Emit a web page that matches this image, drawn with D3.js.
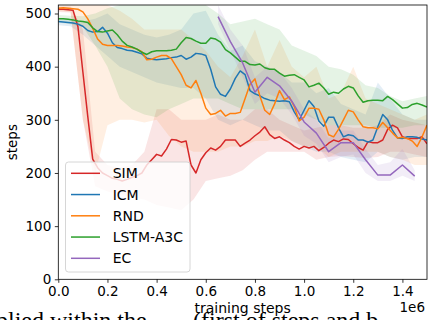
<!DOCTYPE html>
<html><head><meta charset="utf-8">
<script src="https://cdn.jsdelivr.net/npm/d3@7"></script>
<style>html,body{margin:0;padding:0;background:#fff;overflow:hidden}</style>
</head><body>
<script>
// ---- data ----
const steps = [0,0.02,0.04,0.06,0.08,0.10,0.12,0.14,0.16,0.18,
 0.20,0.22,0.24,0.26,0.28,0.30,0.32,0.34,0.36,0.38,
 0.40,0.42,0.44,0.46,0.48,0.50,0.52,0.54,0.56,0.58,
 0.60,0.62,0.64,0.66,0.68,0.70,0.72,0.74,0.76,0.78,
 0.80,0.82,0.84,0.86,0.88,0.90,0.92,0.94,0.96,0.98,
 1.00,1.02,1.04,1.06,1.08,1.10,1.12,1.14,1.16,1.18,
 1.20,1.22,1.24,1.26,1.28,1.30,1.32,1.34,1.36,1.38,
 1.40,1.42,1.44,1.46,1.48,1.50];
const sim = [508,508,507,506,475,390,306,226,210,200,
 195,190,188,185,188,192,195,200,215,225,
 235,232,245,263,262,258,260,215,200,225,
 238,247,243,250,262,262,262,250,256,262,
 270,277,287,272,265,268,262,257,250,245,
 250,247,250,242,248,256,262,259,264,263,
 255,248,243,259,257,257,262,282,290,285,
 268,265,265,265,268,255];
const icm = [485,484,483,482,480,476,468,465,466,474,
 463,445,436,434,431,430,427,424,416,414,
 413,414,415,417,418,421,414,418,425,424,
 421,395,362,348,344,358,378,392,385,355,
 349,345,340,337,336,335,336,334,315,300,
 318,336,325,298,288,305,305,285,268,272,
 270,262,262,258,262,287,310,300,280,266,
 265,268,268,267,264,262];
const rnd = [510,511,510,509,508,503,490,472,452,442,
 440,440,440,439,437,436,433,428,413,414,
 418,421,421,415,400,385,365,360,374,350,
 322,310,312,318,307,312,312,314,340,367,
 377,345,318,310,330,355,338,343,325,298,
 305,322,322,320,300,272,268,282,300,318,
 315,300,287,285,285,283,295,285,275,266,
 267,265,260,250,268,290];
const lstm = [490,490,489,488,486,485,483,473,466,465,
 467,469,460,448,440,437,433,427,423,428,
 430,430,430,431,433,445,455,453,448,444,
 444,454,452,446,432,426,418,410,410,404,
 403,405,398,395,395,388,382,384,385,380,
 375,362,365,369,360,348,352,350,358,363,
 360,345,333,336,337,337,336,344,338,330,
 322,323,329,331,328,324];
const ecSteps = [0.65,0.70,0.75,0.80,0.85,0.90,0.95,1.00,1.05,1.10,1.15,1.20,1.25,1.30,1.35,1.40,1.45];
const ec = [494,447,407,352,380,364,335,296,275,240,257,257,225,196,196,215,194];

const bandSteps = [0,0.05,0.10,0.15,0.20,0.25,0.30,0.35,0.40,0.45,0.50,0.55,0.60,0.65,0.70,0.75,
 0.80,0.85,0.90,0.95,1.00,1.05,1.10,1.15,1.20,1.25,1.30,1.35,1.40,1.45,1.50];
const simLo = [503,502,300,175,165,160,155,150,140,135,130,150,185,190,195,205,225,240,240,240,240,225,230,232,230,228,230,240,240,235,230];
const simHi = [513,513,470,240,215,210,215,240,320,320,300,300,300,310,300,300,320,320,300,290,280,285,290,290,285,285,290,310,300,295,290];
const icmLo = [478,476,460,440,420,400,390,380,370,365,360,360,340,300,290,300,290,280,280,260,250,240,240,230,225,220,240,230,225,230,230];
const icmHi = [492,490,485,490,500,480,470,460,455,460,470,500,505,460,430,440,410,400,390,370,370,350,360,330,320,310,370,340,310,300,300];
const rndLo = [505,503,300,200,290,300,300,295,300,270,250,240,240,240,250,250,260,260,270,260,250,250,230,240,240,240,240,230,225,215,215];
const rndHi = [515,516,516,516,516,505,490,470,470,470,470,450,430,400,380,420,470,400,450,400,380,400,340,350,400,340,330,320,310,300,310];
const lstmLo = [483,480,475,440,400,340,320,310,305,320,330,340,340,340,330,320,320,320,320,320,310,300,290,290,290,290,285,285,285,290,290];
const lstmHi = [497,496,495,500,510,516,516,516,516,516,516,516,516,500,480,485,490,480,470,440,430,420,400,395,385,365,360,345,335,340,345];
const ecLo = [480,430,380,330,350,340,310,270,255,220,230,235,200,185,185,195,185];
const ecHi = [516,470,440,380,400,390,360,320,300,265,280,280,245,215,220,245,205];

const seriesNames = ["SIM","ICM","RND","LSTM-A3C","EC"];
const colors = ["#d62728","#1f77b4","#ff7f0e","#2ca02c","#9467bd"];
const xTicks = [0,0.2,0.4,0.6,0.8,1.0,1.2,1.4];
const yTicks = [0,100,200,300,400,500];

// ---- build ----
const series = [
  {name:"SIM", xs:steps, ys:sim, bx:bandSteps, lo:simLo, hi:simHi},
  {name:"ICM", xs:steps, ys:icm, bx:bandSteps, lo:icmLo, hi:icmHi},
  {name:"RND", xs:steps, ys:rnd, bx:bandSteps, lo:rndLo, hi:rndHi},
  {name:"LSTM-A3C", xs:steps, ys:lstm, bx:bandSteps, lo:lstmLo, hi:lstmHi},
  {name:"EC", xs:ecSteps, ys:ec, bx:ecSteps, lo:ecLo, hi:ecHi}
];

const W=429, H=320;
const L=58.3, R=427, T=5, B=279.3;
const svg = d3.select("body").append("svg").attr("width",W).attr("height",H)
  .style("font-family","'DejaVu Sans', sans-serif");
const x = d3.scaleLinear().domain([0,1.5]).range([L,R]);
const y = d3.scaleLinear().domain([0,516]).range([B,T]);

// cut-off caption text from the page below
const cap = svg.append("g").style("font-family","'Liberation Serif', serif").style("font-size","24px").attr("fill","#000");
cap.append("text").attr("x",-4).attr("y",328).text("plied within the");
cap.append("text").attr("x",193).attr("y",328).text("(first of steps and b…");

svg.append("clipPath").attr("id","clip").append("rect")
  .attr("x",L).attr("y",T).attr("width",R-L).attr("height",B-T);
const plot = svg.append("g").attr("clip-path","url(#clip)");

series.forEach((s,i)=>{
  const pts = s.bx.map((v,k)=>[v,s.lo[k],s.hi[k]]);
  plot.append("path").datum(pts)
    .attr("d", d3.area().x(d=>x(d[0])).y0(d=>y(d[1])).y1(d=>y(d[2])))
    .attr("fill", colors[i]).attr("fill-opacity", 0.12).attr("stroke","none");
});
series.forEach((s,i)=>{
  const pts = s.xs.map((v,k)=>[v,s.ys[k]]);
  plot.append("path").datum(pts)
    .attr("d", d3.line().x(d=>x(d[0])).y(d=>y(d[1])))
    .attr("fill","none").attr("stroke", colors[i]).attr("stroke-width",1.5)
    .attr("stroke-linejoin","round");
});

// axes
const xAxis = d3.axisBottom(x).tickValues(xTicks).tickFormat(d3.format(".1f")).tickSizeOuter(0).tickSize(3.5).tickPadding(3.5);
const yAxis = d3.axisLeft(y).tickValues(yTicks).tickFormat(d3.format("d")).tickSizeOuter(0).tickSize(3.5).tickPadding(3.5);
const gx = svg.append("g").attr("transform",`translate(0,${B})`).call(xAxis);
const gy = svg.append("g").attr("transform",`translate(${L},0)`).call(yAxis);
[gx,gy].forEach(g=>{
  g.select(".domain").remove();
  g.selectAll("line").attr("stroke","#000").attr("stroke-width",0.8);
  g.selectAll("text").attr("fill","#000").style("font-size","13.5px").style("font-family","'DejaVu Sans', sans-serif");
});
svg.append("rect").attr("x",L).attr("y",T).attr("width",R-L).attr("height",B-T)
  .attr("fill","none").attr("stroke","#000").attr("stroke-width",0.8);

svg.append("text").attr("x",(L+R)/2).attr("y",313).attr("text-anchor","middle")
  .style("font-size","14px").text("training steps");
svg.append("text").attr("transform",`translate(17,${(T+B)/2}) rotate(-90)`).attr("text-anchor","middle")
  .style("font-size","13.5px").text("steps");
svg.append("text").attr("x",425).attr("y",312).attr("text-anchor","end")
  .style("font-size","13.5px").text("1e6");

// legend
const lg = svg.append("g");
lg.append("rect").attr("x",65.5).attr("y",162).attr("width",124.5).attr("height",110).attr("rx",3)
  .attr("fill","#fff").attr("fill-opacity",0.8).attr("stroke","#ccc").attr("stroke-width",0.8);
seriesNames.forEach((n,i)=>{
  const yy = 173.3 + i*21.25;
  lg.append("line").attr("x1",71).attr("x2",100).attr("y1",yy).attr("y2",yy)
    .attr("stroke",colors[i]).attr("stroke-width",1.5);
  lg.append("text").attr("x",112.7).attr("y",yy+5).style("font-size","14px").attr("fill","#000").text(n);
});
</script>
</body></html>
